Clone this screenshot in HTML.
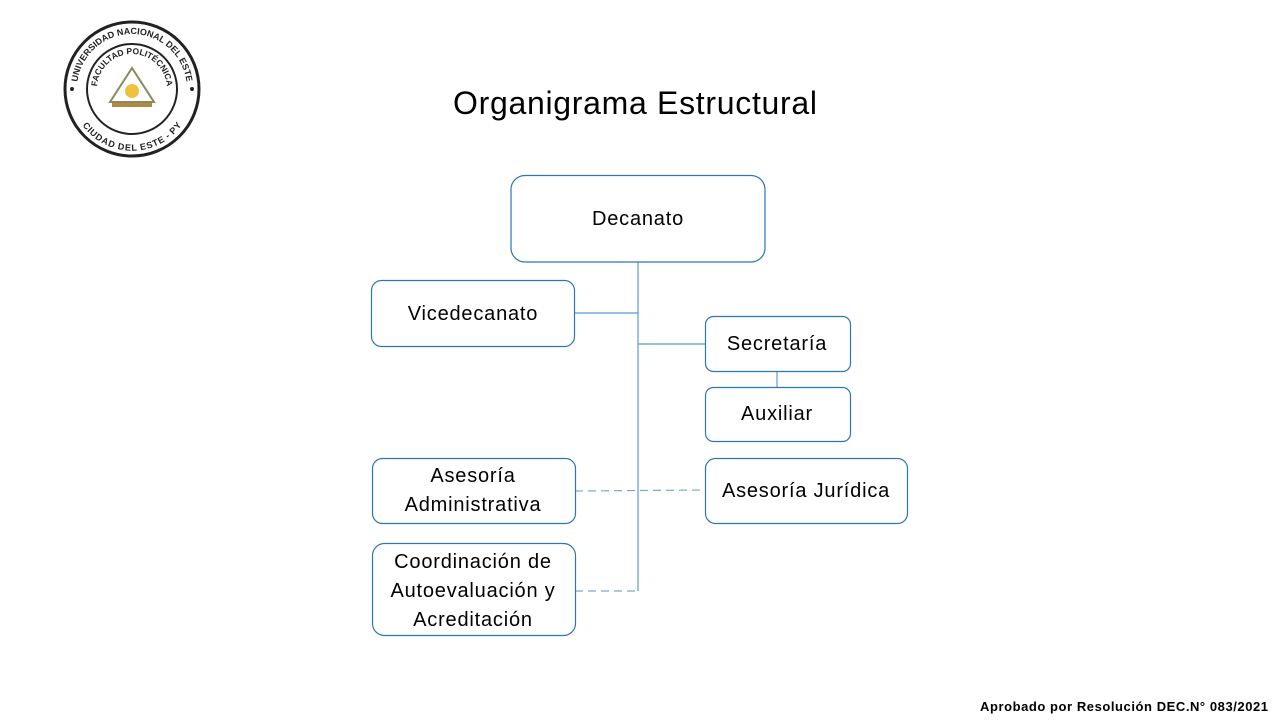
<!DOCTYPE html>
<html><head><meta charset="utf-8"><style>
html,body{margin:0;padding:0;background:#fff;}
svg{display:block;}
text{font-family:"Liberation Sans",sans-serif;}
</style></head><body>
<svg width="1280" height="720" viewBox="0 0 1280 720" xmlns="http://www.w3.org/2000/svg">
<rect width="1280" height="720" fill="#fff"/>
<g>
<circle cx="132" cy="89" r="67" fill="#fff" stroke="#222" stroke-width="3"/>
<circle cx="132" cy="89" r="45" fill="none" stroke="#222" stroke-width="2"/>
<defs>
<path id="arcTop" d="M77,89 A55,55 0 0 1 187,89"/>
<path id="arcIn" d="M97,89 A35,35 0 0 1 167,89"/>
<path id="arcBot" d="M80,100 A53,53 0 0 0 184,100"/>
</defs>
<text font-size="9" font-weight="bold" fill="#222"><textPath href="#arcTop" startOffset="50%" text-anchor="middle">UNIVERSIDAD NACIONAL DEL ESTE</textPath></text>
<text font-size="8.5" font-weight="bold" fill="#222"><textPath href="#arcIn" startOffset="50%" text-anchor="middle">FACULTAD POLITÉCNICA</textPath></text>
<text font-size="9" font-weight="bold" fill="#222" dy="8"><textPath href="#arcBot" startOffset="50%" text-anchor="middle">CIUDAD DEL ESTE - PY</textPath></text>
<circle cx="72" cy="89" r="2" fill="#222"/><circle cx="192" cy="89" r="2" fill="#222"/>
<polygon points="132,68 110,102 154,102" fill="#fff" stroke="#8a8a5a" stroke-width="2"/>
<circle cx="132" cy="91" r="7" fill="#f0c040"/>
<rect x="112" y="103" width="40" height="4" fill="#b08a40"/>
</g>
<text x="453" y="114" font-size="32" textLength="364" lengthAdjust="spacing" fill="#000">Organigrama Estructural</text>
<g stroke="#5b9bd5" stroke-width="1.2" fill="none">
<line x1="638" y1="262" x2="638" y2="591"/>
<line x1="574" y1="313" x2="638" y2="313"/>
<line x1="638" y1="344" x2="705" y2="344"/>
<line x1="777" y1="371" x2="777" y2="387"/>
<line x1="575" y1="491" x2="705" y2="490" stroke-dasharray="8,5" stroke="#7fa6d0"/>
<line x1="575" y1="591" x2="638" y2="591" stroke-dasharray="8,5" stroke="#7fa6d0"/>
</g>
<g fill="#fff" stroke="#2e75b6" stroke-width="1.2">
<rect x="511" y="175.5" width="254" height="86.5" rx="14"/>
<rect x="371.5" y="280.5" width="203" height="66" rx="10"/>
<rect x="705.5" y="316.5" width="145" height="55" rx="8"/>
<rect x="705.5" y="387.5" width="145" height="54" rx="8"/>
<rect x="705.5" y="458.5" width="202" height="65" rx="10"/>
<rect x="372.5" y="458.5" width="203" height="65" rx="10"/>
<rect x="372.5" y="543.5" width="203" height="92" rx="12"/>
</g>
<g font-size="20" fill="#000" text-anchor="middle" letter-spacing="0.8">
<text x="638" y="225">Decanato</text>
<text x="473" y="320">Vicedecanato</text>
<text x="777" y="350">Secretaría</text>
<text x="777" y="420">Auxiliar</text>
<text x="806" y="497">Asesoría Jurídica</text>
<text x="473" y="482">Asesoría</text>
<text x="473" y="511">Administrativa</text>
<text x="473" y="568">Coordinación de</text>
<text x="473" y="597">Autoevaluación y</text>
<text x="473" y="626">Acreditación</text>
</g>
<text x="980" y="711" font-size="13" font-weight="bold" textLength="288" lengthAdjust="spacing" fill="#000">Aprobado por Resolución DEC.N° 083/2021</text>
</svg>
</body></html>
